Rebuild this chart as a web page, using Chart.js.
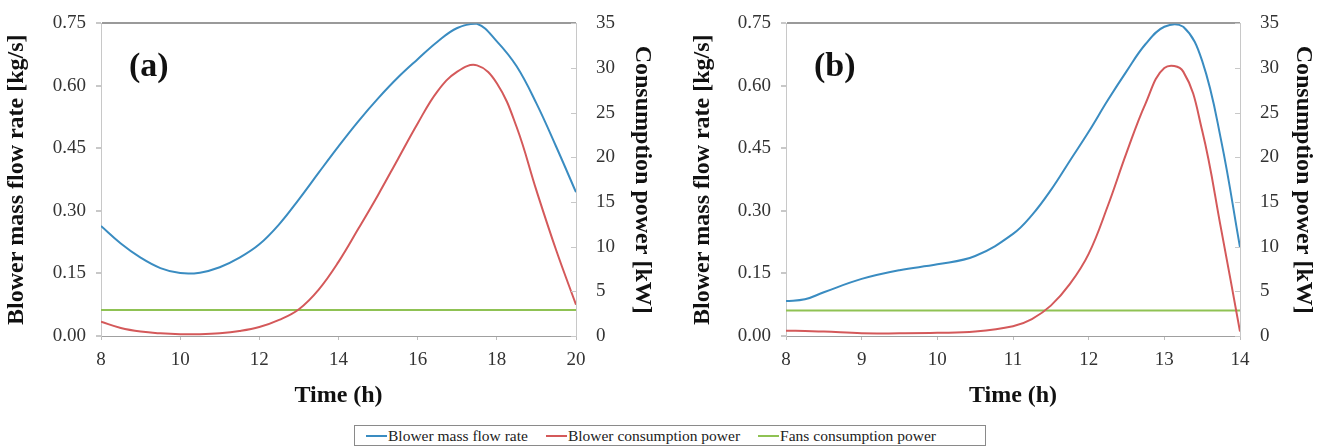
<!DOCTYPE html>
<html>
<head>
<meta charset="utf-8">
<script src="https://cdn.jsdelivr.net/npm/chart.js@4.4.1/dist/chart.umd.min.js"></script>
<style>
  body { margin: 0; background: #fff; width: 1321px; height: 448px; overflow: hidden; position: relative; font-family: "Liberation Serif", serif; }
  .box { position: absolute; top: 0; height: 420px; }
  #legend { position: absolute; left: 354px; top: 425px; width: 632px; height: 21px; border: 1px solid #8a8a8a; box-sizing: border-box;
            display: flex; align-items: center; padding-left: 11px; font-size: 15.5px; color: #222; white-space: nowrap; }
  #legend span.item { display: inline-flex; align-items: center; margin-right: 18px; }
  #legend span.ln { display: inline-block; width: 21px; height: 2px; margin-right: 1px; }
</style>
</head>
<body>
<div class="box" style="left:0;width:660px"><canvas id="chartA"></canvas></div>
<div class="box" style="left:686px;width:635px"><canvas id="chartB"></canvas></div>
<div id="legend"></div>
<script>
// (a) 8-20 h
const timeA  = [8, 8.5, 9, 9.5, 10, 10.5, 11, 11.5, 12, 12.5, 13, 13.5, 14, 14.5, 15, 15.5, 16, 16.5, 17, 17.5, 18, 18.5, 19, 19.5, 20];
const flowA  = [0.264, 0.222, 0.188, 0.163, 0.151, 0.152, 0.165, 0.188, 0.220, 0.268, 0.328, 0.392, 0.455, 0.515, 0.570, 0.620, 0.664, 0.706, 0.739, 0.749, 0.707, 0.647, 0.558, 0.454, 0.345];
const powerA = [1.6, 0.9, 0.5, 0.3, 0.2, 0.2, 0.3, 0.55, 1.0, 1.8, 3.0, 5.2, 8.3, 12.0, 15.8, 19.8, 23.8, 27.4, 29.6, 30.3, 28.3, 23.4, 16.3, 9.6, 3.5];
const fansA  = [2.9, 2.9];
const fansTimeA = [8, 20];

// (b) 8-14 h
const timeB  = [8, 8.25, 8.5, 9, 9.5, 10, 10.5, 11, 11.25, 11.5, 11.75, 12, 12.25, 12.5, 12.75, 13, 13.25, 13.5, 13.75, 14];
const flowB  = [0.084, 0.088, 0.105, 0.137, 0.158, 0.172, 0.192, 0.245, 0.29, 0.35, 0.42, 0.49, 0.565, 0.635, 0.70, 0.742, 0.742, 0.66, 0.47, 0.213];
const powerB = [0.6, 0.55, 0.5, 0.3, 0.3, 0.35, 0.5, 1.1, 1.9, 3.4, 5.8, 9.2, 14.5, 20.5, 26.0, 30.0, 29.6, 23.0, 12.0, 0.5];
const fansB  = [2.85, 2.85];
const fansTimeB = [8, 14];

const flowTicks  = [0, 0.15, 0.30, 0.45, 0.60, 0.75];
const powerTicks = [0, 5, 10, 15, 20, 25, 30, 35];

const names  = ['Blower mass flow rate', 'Blower consumption power', 'Fans consumption power'];
const colors = ['#3a8cc1', '#d4595a', '#8fc253'];

function pts(xs, ys) {
  return xs.map((x, i) => ({ x: x, y: ys[i] }));
}

// the "(a)" / "(b)" tag inside the plot, plus short inward ticks on the right axis
const panelTag = {
  id: 'panelTag',
  afterDraw(chart, args, opts) {
    const c = chart.ctx, a = chart.chartArea, r = chart.scales.y1;
    c.save();
    c.font = 'bold 34px "Liberation Serif"';
    c.fillStyle = '#111';
    c.textBaseline = 'middle';
    c.fillText(opts.text, a.left + opts.dx, a.top + 44);
    c.strokeStyle = '#c8c8c8';
    c.lineWidth = 1;
    powerTicks.forEach(v => {
      const y = Math.round(r.getPixelForValue(v)) + 0.5;
      c.beginPath();
      c.moveTo(a.right - 5, y);
      c.lineTo(a.right, y);
      c.stroke();
    });
    c.restore();
  }
};

const titleFont = { family: 'Liberation Serif', size: 24, weight: 'bold' };
const tickFont = { family: 'Liberation Serif', size: 19 };

function makeChart(id, cfg) {
  return new Chart(document.getElementById(id), {
    type: 'line',
    data: {
      datasets: [
        { label: names[0], data: pts(cfg.t, cfg.flow), yAxisID: 'y' , borderColor: colors[0] },
        { label: names[1], data: pts(cfg.t, cfg.power), yAxisID: 'y1', borderColor: colors[1] },
        { label: names[2], data: pts(cfg.ft, cfg.fans), yAxisID: 'y1', borderColor: colors[2], tension: 0 }
      ]
    },
    options: {
      responsive: true,
      maintainAspectRatio: false,
      animation: false,
      layout: { padding: { top: 15, bottom: 8 } },
      elements: {
        point: { radius: 0 },
        line: { borderWidth: 2, tension: 0.4 }
      },
      plugins: {
        legend: { display: false },
        tooltip: { enabled: false },
        panelTag: { text: cfg.tag, dx: 28 }
      },
      scales: {
        x: {
          type: 'linear', min: cfg.xmin, max: cfg.xmax,
          ticks: { stepSize: cfg.step, font: tickFont, color: '#333', padding: 9, maxRotation: 0 },
          grid: { drawOnChartArea: false, tickLength: 4, color: '#bdbdbd' },
          border: { color: '#a0a0a0' },
          title: { display: true, text: 'Time (h)', font: titleFont, color: '#111', padding: 2 },
          afterFit(s) { s.height = 76; }
        },
        y: {
          position: 'left', min: 0, max: 0.75,
          afterBuildTicks(s) { s.ticks = flowTicks.map(v => ({ value: v })); },
          ticks: { font: tickFont, color: '#333', padding: 10, callback: v => v.toFixed(2) },
          grid: {
            color: c => c.tick && c.tick.value === 0.75 ? '#9a9a9a' : 'transparent',
            tickColor: '#c8c8c8', tickLength: 5, lineWidth: 2
          },
          border: { color: '#c8c8c8' },
          title: { display: true, text: 'Blower mass flow rate [kg/s]', font: titleFont, color: '#111', padding: 2 },
          afterFit(s) { s.width = cfg.leftW; }
        },
        y1: {
          position: 'right', min: 0, max: 35,
          afterBuildTicks(s) { s.ticks = powerTicks.map(v => ({ value: v })); },
          ticks: { font: tickFont, color: '#333', padding: 12 },
          grid: { display: false },
          border: { color: '#c8c8c8' },
          title: { display: true, text: 'Consumption power [kW]', font: titleFont, color: '#111', padding: 3 },
          afterFit(s) { s.width = cfg.rightW; }
        }
      }
    },
    plugins: [panelTag]
  });
}

makeChart('chartA', { t: timeA, flow: flowA, power: powerA, ft: fansTimeA, fans: fansA,
  xmin: 8, xmax: 20, step: 2, tag: '(a)', leftW: 101, rightW: 84 });
makeChart('chartB', { t: timeB, flow: flowB, power: powerB, ft: fansTimeB, fans: fansB,
  xmin: 8, xmax: 14, step: 1, tag: '(b)', leftW: 100, rightW: 81 });

// legend below both panels
const lg = document.getElementById('legend');
names.forEach((n, i) => {
  const it = document.createElement('span');
  it.className = 'item';
  it.innerHTML = '<span class="ln" style="background:' + colors[i] + '"></span>' + n;
  lg.appendChild(it);
});
</script>
</body>
</html>
